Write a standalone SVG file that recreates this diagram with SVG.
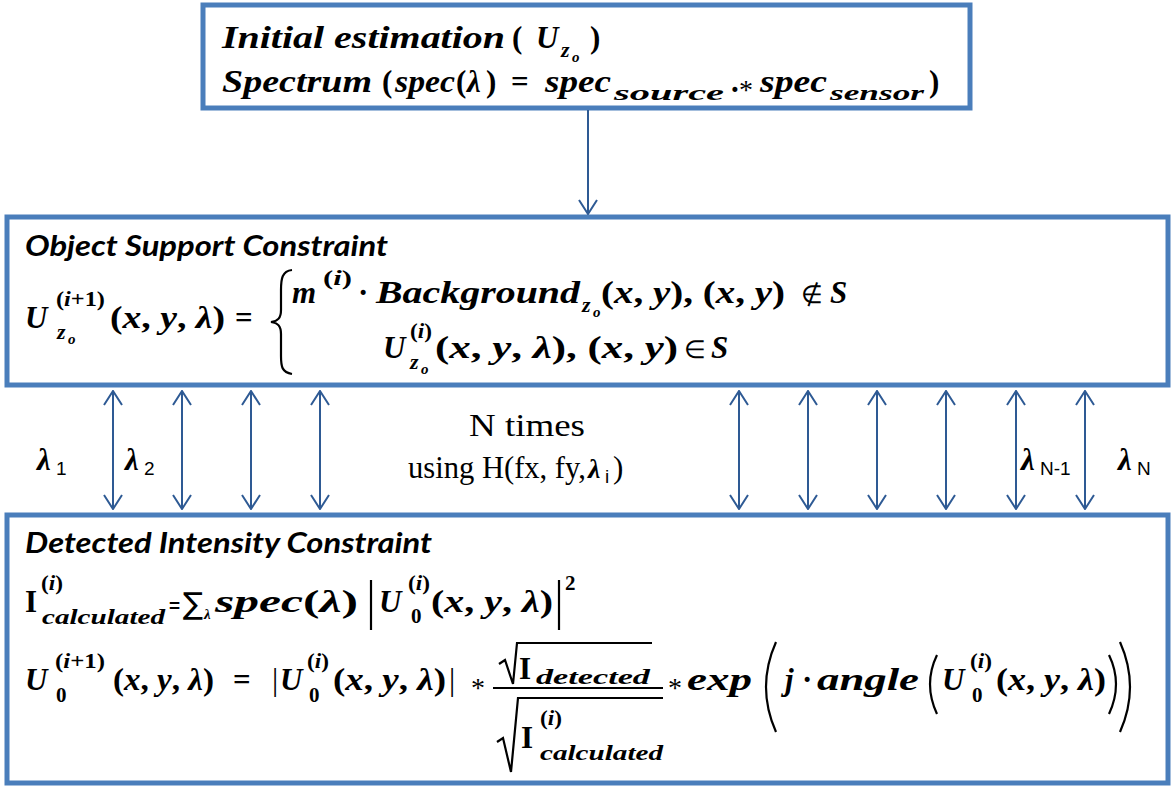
<svg xmlns="http://www.w3.org/2000/svg" width="1171" height="788" viewBox="0 0 1171 788">
<style>
.box{fill:#fff;stroke:#4A7EBB;stroke-width:5}
.m{font-family:"Liberation Serif",serif;font-weight:bold;font-style:italic;font-size:31px;fill:#000}
.n{font-style:normal}
.ast{font-family:"Liberation Serif",serif;font-weight:normal;font-style:normal;font-size:28px;fill:#000}
.sp{font-family:"Liberation Serif",serif;font-weight:bold;font-style:normal;font-size:21px;fill:#000}
.s{font-family:"Liberation Serif",serif;font-weight:bold;font-style:italic;font-size:22px;fill:#000}
.ss{font-family:"Liberation Serif",serif;font-weight:bold;font-style:italic;font-size:15px;fill:#000}
.i{font-style:italic}
.h{font-family:Lato,"Liberation Sans",sans-serif;font-weight:bold;font-style:italic;font-size:28px;fill:#000}
.r{font-family:"Liberation Serif",serif;font-size:31px;fill:#000}
.lab{font-family:"Liberation Sans",sans-serif;font-size:19px;fill:#000}
.conn line{stroke:#2E5A94;stroke-width:2;fill:none}
.bar{stroke:#000;stroke-width:2.2;fill:none}
</style>
<defs>
<marker id="ah" viewBox="0 0 16 20" refX="15" refY="10" markerUnits="userSpaceOnUse" markerWidth="16" markerHeight="20" orient="auto-start-reverse">
<path d="M1,1 L15,10 L1,19" fill="none" stroke="#2E5A94" stroke-width="2"/>
</marker>
</defs>
<rect width="1171" height="788" fill="#fff"/>

<g id="init">
<rect class="box" x="203" y="5" width="767" height="103"/>
<text class="m" x="222" y="48" textLength="283" lengthAdjust="spacingAndGlyphs">Initial estimation</text>
<text class="m n" x="512" y="48">(</text>
<text class="m" x="536" y="48">U</text>
<text class="s" x="561" y="57">z</text>
<text class="ss" x="572" y="62">o</text>
<text class="m n" x="590" y="48">)</text>
<text class="m" x="222" y="92" textLength="150" lengthAdjust="spacingAndGlyphs">Spectrum</text>
<text class="m n" x="382" y="92">(</text>
<text class="m" x="395" y="92" textLength="60" lengthAdjust="spacingAndGlyphs">spec</text>
<text class="m n" x="456" y="92">(</text>
<text class="m" x="467" y="92">λ</text>
<text class="m n" x="486" y="92">)</text>
<text class="m n" x="511" y="92">=</text>
<text class="m" x="545" y="92" textLength="66" lengthAdjust="spacingAndGlyphs">spec</text>
<text class="s" x="614" y="100" textLength="110" lengthAdjust="spacingAndGlyphs">source</text>
<text class="m n" x="731" y="92">.</text>
<text class="ast" x="739" y="99">*</text>
<text class="m" x="760" y="92" textLength="67" lengthAdjust="spacingAndGlyphs">spec</text>
<text class="s" x="830" y="100" textLength="94" lengthAdjust="spacingAndGlyphs">sensor</text>
<text class="m n" x="929" y="92">)</text>
</g>

<g id="object">
<rect class="box" x="7" y="217" width="1161" height="168"/>
<text class="h" x="25" y="256" textLength="363" lengthAdjust="spacingAndGlyphs">Object Support  Constraint</text>
<text class="m" x="25" y="328">U</text>
<text class="sp" x="56" y="306" textLength="49" lengthAdjust="spacingAndGlyphs">(<tspan class="i">i</tspan>+1)</text>
<text class="s" x="57" y="339">z</text>
<text class="ss" x="68" y="344">o</text>
<text class="m" x="110" y="328" textLength="115" lengthAdjust="spacingAndGlyphs"><tspan class="n">(</tspan>x<tspan class="n">, </tspan>y<tspan class="n">, </tspan>λ<tspan class="n">)</tspan></text>
<text class="m n" x="235" y="328">=</text>
<path class="bar" d="M292,270 C282,271 281,279 281,290 L281,310 C281,318 278,321 271,322 C278,323 281,326 281,334 L281,356 C281,367 282,372 292,374"/>
<text class="m" x="292" y="303">m</text>
<text class="sp" x="323" y="285" textLength="29" lengthAdjust="spacingAndGlyphs">(<tspan class="i">i</tspan>)</text>
<text class="m n" x="358" y="303">·</text>
<text class="m" x="376" y="303" textLength="204" lengthAdjust="spacingAndGlyphs">Background</text>
<text class="s" x="582" y="312">z</text>
<text class="ss" x="593" y="317">o</text>
<text class="m" x="601" y="303" textLength="184" lengthAdjust="spacingAndGlyphs"><tspan class="n">(</tspan>x<tspan class="n">, </tspan>y<tspan class="n">), (</tspan>x<tspan class="n">, </tspan>y<tspan class="n">)</tspan></text>
<text class="m n" x="801" y="303" style="font-size:25px;font-weight:normal">∉</text>
<text class="m" x="830" y="303">S</text>
<text class="m" x="383" y="358">U</text>
<text class="sp" x="410" y="338" textLength="22" lengthAdjust="spacingAndGlyphs">(<tspan class="i">i</tspan>)</text>
<text class="s" x="410" y="369">z</text>
<text class="ss" x="421" y="374">o</text>
<text class="m" x="435" y="358" textLength="243" lengthAdjust="spacingAndGlyphs"><tspan class="n">(</tspan>x<tspan class="n">, </tspan>y<tspan class="n">, </tspan>λ<tspan class="n">), (</tspan>x<tspan class="n">, </tspan>y<tspan class="n">)</tspan></text>
<text class="m n" x="684" y="358" style="font-size:25px;font-weight:normal">∈</text>
<text class="m" x="711" y="358">S</text>
</g>

<g id="detected">
<rect class="box" x="7" y="515" width="1161" height="268"/>
<text class="h" x="25" y="553" textLength="407" lengthAdjust="spacingAndGlyphs">Detected Intensity Constraint</text>
<text class="m n" x="25" y="612">I</text>
<text class="sp" x="41" y="590" textLength="22" lengthAdjust="spacingAndGlyphs">(<tspan class="i">i</tspan>)</text>
<text class="s" x="42" y="624" textLength="123" lengthAdjust="spacingAndGlyphs">calculated</text>
<text class="lab" x="169" y="612" style="font-weight:bold">=</text>
<text x="183" y="614" style="font-family:'DejaVu Sans',sans-serif;font-size:30px">∑</text>
<text class="s" x="204" y="619" style="font-size:15px">λ</text>
<text class="m" x="215" y="612" textLength="143" lengthAdjust="spacingAndGlyphs">spec<tspan class="n">(</tspan>λ<tspan class="n">)</tspan></text>
<line class="bar" x1="371" y1="580" x2="371" y2="630"/>
<text class="m" x="379" y="612">U</text>
<text class="sp" x="408" y="590" textLength="22" lengthAdjust="spacingAndGlyphs">(<tspan class="i">i</tspan>)</text>
<text class="sp" x="411" y="623">0</text>
<text class="m" x="431" y="612" textLength="122" lengthAdjust="spacingAndGlyphs"><tspan class="n">(</tspan>x<tspan class="n">, </tspan>y<tspan class="n">, </tspan>λ<tspan class="n">)</tspan></text>
<line class="bar" x1="559" y1="580" x2="559" y2="630"/>
<text class="sp" x="565" y="590">2</text>

<text class="m" x="25" y="690">U</text>
<text class="sp" x="55" y="668" textLength="50" lengthAdjust="spacingAndGlyphs">(<tspan class="i">i</tspan>+1)</text>
<text class="sp" x="56" y="702">0</text>
<text class="m" x="113" y="690" textLength="101" lengthAdjust="spacingAndGlyphs"><tspan class="n">(</tspan>x<tspan class="n">, </tspan>y<tspan class="n">, </tspan>λ<tspan class="n">)</tspan></text>
<text class="m n" x="233" y="690">=</text>
<text class="m n" x="272" y="690" style="font-weight:normal">|</text>
<text class="m" x="280" y="690">U</text>
<text class="sp" x="307" y="668" textLength="22" lengthAdjust="spacingAndGlyphs">(<tspan class="i">i</tspan>)</text>
<text class="sp" x="309" y="702">0</text>
<text class="m" x="333" y="690" textLength="113" lengthAdjust="spacingAndGlyphs"><tspan class="n">(</tspan>x<tspan class="n">, </tspan>y<tspan class="n">, </tspan>λ<tspan class="n">)</tspan></text>
<text class="m n" x="449" y="690" style="font-weight:normal">|</text>
<text class="ast" x="471" y="697">*</text>
<path class="bar" d="M499,664 L505,660 L513,684 L517,643 L652,643"/>
<text class="m n" x="519" y="679">I</text>
<text class="s" x="536" y="684" textLength="114" lengthAdjust="spacingAndGlyphs">detected</text>
<line class="bar" x1="493" y1="688" x2="663" y2="688"/>
<path class="bar" d="M497,742 L503,738 L511,772 L518,698 L663,698"/>
<text class="m n" x="521" y="748">I</text>
<text class="sp" x="540" y="725" textLength="22" lengthAdjust="spacingAndGlyphs">(<tspan class="i">i</tspan>)</text>
<text class="s" x="540" y="760" textLength="123" lengthAdjust="spacingAndGlyphs">calculated</text>
<text class="ast" x="668" y="697">*</text>
<text class="m" x="687" y="690" textLength="65" lengthAdjust="spacingAndGlyphs">exp</text>
<path class="bar" d="M776,642 Q756,687 776,732"/>
<text class="m" x="785" y="690">j</text>
<text class="m n" x="802" y="690">·</text>
<text class="m" x="817" y="690" textLength="102" lengthAdjust="spacingAndGlyphs">angle</text>
<path class="bar" d="M937,655 Q923,684 937,714"/>
<text class="m" x="942" y="690">U</text>
<text class="sp" x="970" y="668" textLength="22" lengthAdjust="spacingAndGlyphs">(<tspan class="i">i</tspan>)</text>
<text class="sp" x="972" y="702">0</text>
<text class="m" x="996" y="690" textLength="110" lengthAdjust="spacingAndGlyphs"><tspan class="n">(</tspan>x<tspan class="n">, </tspan>y<tspan class="n">, </tspan>λ<tspan class="n">)</tspan></text>
<path class="bar" d="M1109,655 Q1123,684 1109,714"/>
<path class="bar" d="M1120,642 Q1140,687 1120,732"/>
</g>

<g id="labels">
<text class="m" x="37" y="470">λ</text><text class="lab" x="56" y="475">1</text>
<text class="m" x="125" y="470">λ</text><text class="lab" x="144" y="475">2</text>
<text class="r" x="469" y="436" textLength="116" lengthAdjust="spacingAndGlyphs">N times</text>
<text class="r" x="408" y="478" textLength="178" lengthAdjust="spacingAndGlyphs">using H(fx, fy, </text>
<text class="m" x="588" y="478" style="font-size:28px">λ</text>
<text class="lab" x="605" y="483">i</text>
<text class="r" x="613" y="478">)</text>
<text class="m" x="1021" y="470">λ</text><text class="lab" x="1040" y="475">N-1</text>
<text class="m" x="1118" y="470">λ</text><text class="lab" x="1137" y="475">N</text>
</g>

<g id="connectors" class="conn">
<line x1="588" y1="110" x2="588" y2="214" marker-end="url(#ah)"/>
<line x1="113" y1="391" x2="113" y2="509" marker-start="url(#ah)" marker-end="url(#ah)"/>
<line x1="182" y1="391" x2="182" y2="509" marker-start="url(#ah)" marker-end="url(#ah)"/>
<line x1="251" y1="391" x2="251" y2="509" marker-start="url(#ah)" marker-end="url(#ah)"/>
<line x1="320" y1="391" x2="320" y2="509" marker-start="url(#ah)" marker-end="url(#ah)"/>
<line x1="739" y1="391" x2="739" y2="509" marker-start="url(#ah)" marker-end="url(#ah)"/>
<line x1="808" y1="391" x2="808" y2="509" marker-start="url(#ah)" marker-end="url(#ah)"/>
<line x1="877" y1="391" x2="877" y2="509" marker-start="url(#ah)" marker-end="url(#ah)"/>
<line x1="946" y1="391" x2="946" y2="509" marker-start="url(#ah)" marker-end="url(#ah)"/>
<line x1="1016" y1="391" x2="1016" y2="509" marker-start="url(#ah)" marker-end="url(#ah)"/>
<line x1="1085" y1="391" x2="1085" y2="509" marker-start="url(#ah)" marker-end="url(#ah)"/>
</g>
</svg>
